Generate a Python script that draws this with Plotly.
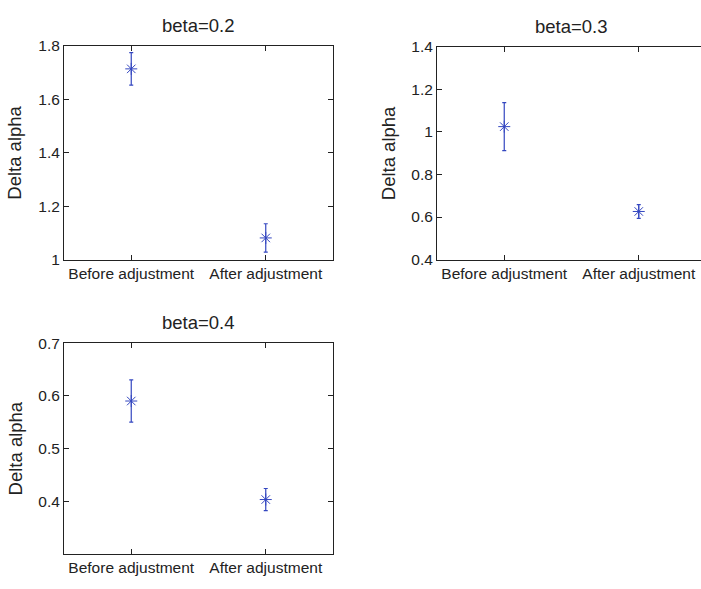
import plotly.graph_objects as go

categories = ["Before adjustment", "After adjustment"]
cat_pos = [1, 2]

titles = ["beta=0.2", "beta=0.3", "beta=0.4"]
means_b02 = [1.714, 1.081]
errs_b02 = [0.061, 0.053]
means_b03 = [1.025, 0.626]
errs_b03 = [0.113, 0.032]
means_b04 = [0.590, 0.403]
errs_b04 = [0.040, 0.021]

y_ranges = [[1.0, 1.8], [0.4, 1.4], [0.3, 0.7]]
y_ticks = [[1.0, 1.2, 1.4, 1.6, 1.8], [0.4, 0.6, 0.8, 1.0, 1.2, 1.4], [0.4, 0.5, 0.6, 0.7]]
y_ticktext = [["1", "1.2", "1.4", "1.6", "1.8"], ["0.4", "0.6", "0.8", "1", "1.2", "1.4"], ["0.4", "0.5", "0.6", "0.7"]]

W, H = 701, 589
BLUE = "#3346c0"
AX = "#222222"
FONT = "Liberation Sans, Arial, Helvetica, sans-serif"

# pixel boxes (left, right, top, bottom)
boxes = [(64, 333, 38, 258), (437, 701, 39, 258), (64, 333, 344, 561)]
x_ranges = [[0.5, 2.5], [0.5, 0.5 + (701 - 437) / 134.5], [0.5, 2.5]]

fig = go.Figure()
series = [(means_b02, errs_b02), (means_b03, errs_b03), (means_b04, errs_b04)]
for i, (m, e) in enumerate(series):
    sfx = "" if i == 0 else str(i + 1)
    fig.add_trace(go.Scatter(
        x=cat_pos, y=m, mode="markers",
        marker=dict(symbol="asterisk-open", size=10, color=BLUE, line=dict(color=BLUE, width=1)),
        error_y=dict(type="data", array=e, visible=True, color=BLUE, thickness=1.2, width=2),
        xaxis="x" + sfx, yaxis="y" + sfx, showlegend=False, hoverinfo="skip"))

layout = dict(width=W, height=H, margin=dict(l=0, r=0, t=0, b=0),
              paper_bgcolor="white", plot_bgcolor="white",
              font=dict(family=FONT, color=AX, size=15.5))
annotations = []
for i, (l, r, t, b) in enumerate(boxes):
    sfx = "" if i == 0 else str(i + 1)
    xa = dict(domain=[l / W, r / W], range=x_ranges[i], tickvals=cat_pos, ticktext=categories,
              showline=True, linecolor=AX, linewidth=1, mirror="ticks", ticks="inside",
              ticklen=5, tickcolor=AX, showgrid=False, zeroline=False,
              anchor="y" + sfx, tickfont=dict(size=15.5, color=AX))
    ya = dict(domain=[1 - b / H, 1 - t / H], range=y_ranges[i], tickvals=y_ticks[i],
              ticktext=y_ticktext[i], showline=True, linecolor=AX, linewidth=1,
              mirror=("ticks" if i != 1 else False), ticks="inside", ticklen=5, tickcolor=AX,
              showgrid=False, zeroline=False, anchor="x" + sfx, tickfont=dict(size=15.5, color=AX))
    layout["xaxis" + sfx] = xa
    layout["yaxis" + sfx] = ya
    cx = (l + (l + 269)) / 2
    annotations.append(dict(text=titles[i], x=cx / W, y=1 - (t - 21) / H, xref="paper", yref="paper",
                            xanchor="center", yanchor="middle", showarrow=False,
                            font=dict(size=18.5, color=AX, family=FONT)))
    annotations.append(dict(text="Delta alpha", x=(l - 49) / W, y=1 - ((t + b) / 2) / H,
                            xref="paper", yref="paper", xanchor="center", yanchor="middle",
                            textangle=-90, showarrow=False,
                            font=dict(size=18.5, color=AX, family=FONT)))
layout["annotations"] = annotations
fig.update_layout(**layout)
fig.write_html("out.html")
